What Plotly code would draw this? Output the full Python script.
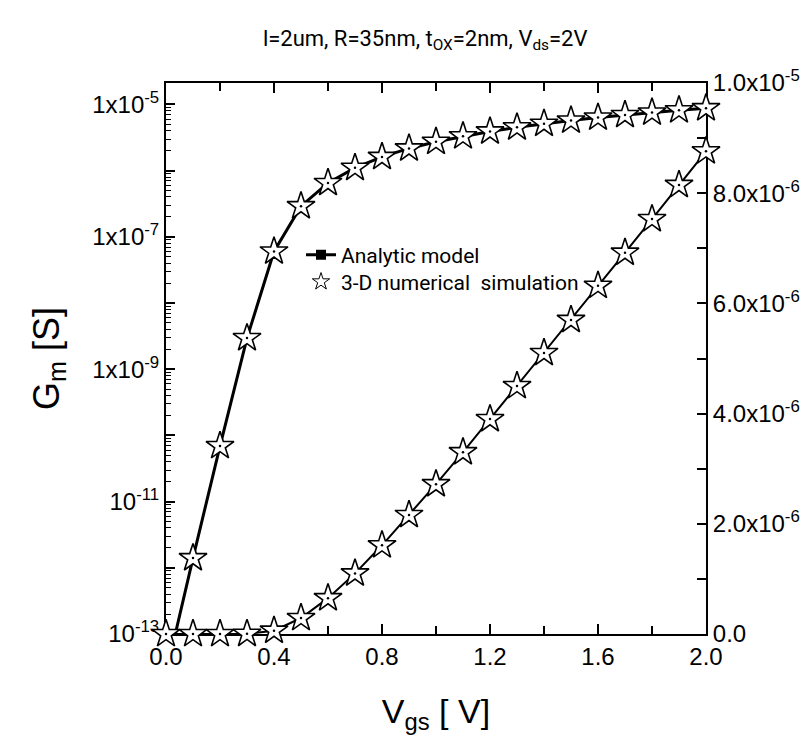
import plotly.graph_objects as go

# ---- data ----
vgs = [0.0, 0.1, 0.2, 0.3, 0.4, 0.5, 0.6, 0.7, 0.8, 0.9, 1.0,
       1.1, 1.2, 1.3, 1.4, 1.5, 1.6, 1.7, 1.8, 1.9, 2.0]
gm_model = [2.5e-14, 1.4e-12, 6.9e-11, 2.95e-9, 6.0e-8, 2.9e-7, 6.5e-7, 1.10e-6,
            1.61e-6, 2.16e-6, 2.72e-6, 3.30e-6, 3.90e-6, 4.50e-6, 5.10e-6,
            5.70e-6, 6.32e-6, 6.92e-6, 7.53e-6, 8.15e-6, 8.76e-6]
gm_sim = [2.5e-14, 1.4e-12, 6.9e-11, 2.95e-9, 6.0e-8, 2.9e-7, 6.5e-7, 1.10e-6,
          1.61e-6, 2.16e-6, 2.72e-6, 3.30e-6, 3.90e-6, 4.50e-6, 5.10e-6,
          5.70e-6, 6.32e-6, 6.92e-6, 7.53e-6, 8.15e-6, 8.76e-6]

x_ticks = [0.0, 0.4, 0.8, 1.2, 1.6, 2.0]
x_ticktext = ["0.0", "0.4", "0.8", "1.2", "1.6", "2.0"]
log_exps = [-13, -12, -11, -10, -9, -8, -7, -6, -5]
log_ticktext = ["10<sup>-13</sup>", "", "10<sup>-11</sup>", "", "1x10<sup>-9</sup>", "",
                "1x10<sup>-7</sup>", "", "1x10<sup>-5</sup>"]
lin_ticks = [0, 2e-6, 4e-6, 6e-6, 8e-6, 1e-5]
lin_ticktext = ["0.0", "2.0x10<sup>-6</sup>", "4.0x10<sup>-6</sup>", "6.0x10<sup>-6</sup>",
                "8.0x10<sup>-6</sup>", "1.0x10<sup>-5</sup>"]

LOG_MIN = 1e-13
NARROW = "Liberation Sans Narrow, Roboto"
SANS = "Liberation Sans"

log_major = [10.0 ** e for e in log_exps]
log_minor = [m * 10.0 ** e for e in log_exps[:-1] for m in range(2, 10)]

sim_log = [v if v >= LOG_MIN else None for v in gm_sim]

star = dict(symbol="star", size=21, color="white", line=dict(color="black", width=1.6))
dot = dict(symbol="circle", size=2.5, color="black")

fig = go.Figure()
# analytic model lines
fig.add_trace(go.Scatter(x=vgs, y=gm_model, mode="lines", yaxis="y",
                         line=dict(color="black", width=3), showlegend=False))
fig.add_trace(go.Scatter(x=vgs, y=gm_model, mode="lines", yaxis="y2",
                         line=dict(color="black", width=2), showlegend=False))
# simulation stars
fig.add_trace(go.Scatter(x=vgs, y=sim_log, mode="markers", yaxis="y", marker=star,
                         cliponaxis=False, showlegend=False))
fig.add_trace(go.Scatter(x=vgs, y=sim_log, mode="markers", yaxis="y", marker=dot,
                         cliponaxis=False, showlegend=False))
fig.add_trace(go.Scatter(x=vgs, y=gm_sim, mode="markers", yaxis="y2", marker=star,
                         cliponaxis=False, showlegend=False))
fig.add_trace(go.Scatter(x=vgs, y=gm_sim, mode="markers", yaxis="y2", marker=dot,
                         cliponaxis=False, showlegend=False))
# legend entries (one legend box each, for exact placement)
fig.add_trace(go.Scatter(x=[None], y=[None], mode="lines+markers", name="Analytic model",
                         line=dict(color="black", width=3), legend="legend",
                         marker=dict(symbol="square", size=10, color="black")))
fig.add_trace(go.Scatter(x=[None], y=[None], mode="markers", name="3-D numerical  simulation",
                         legend="legend2",
                         marker=dict(symbol="star", size=13, color="white",
                                     line=dict(color="black", width=1))))

legend_common = dict(xanchor="left", yanchor="middle", bgcolor="rgba(0,0,0,0)", borderwidth=0,
                     font=dict(family=NARROW, size=21, color="black"))

fig.update_layout(
    width=803, height=749,
    margin=dict(l=166, r=97, t=83, b=115),
    paper_bgcolor="white", plot_bgcolor="white",
    font=dict(family=SANS, color="black"),
    title=dict(text="l=2um, R=35nm, t<sub>OX</sub>=2nm, V<sub>ds</sub>=2V",
               font=dict(family=NARROW, size=22, color="black"),
               x=0.48, xref="paper", xanchor="center",
               y=1 - 38 / 749, yref="container", yanchor="middle"),
    xaxis=dict(range=[0, 2], tickvals=x_ticks, ticktext=x_ticktext,
               ticks="inside", ticklen=10, tickwidth=1.5, tickcolor="black",
               minor=dict(dtick=0.2, ticks="inside", ticklen=8, tickwidth=1.5, tickcolor="black"),
               showline=True, linewidth=2, linecolor="black", mirror="ticks",
               showgrid=False, zeroline=False, layer="below traces",
               tickfont=dict(size=24, family=SANS),
               title=dict(text="V<sub>gs</sub> [ V]", font=dict(size=34, family=SANS), standoff=30)),
    yaxis=dict(type="log", range=[-13, -4.677], tickvals=log_major, ticktext=log_ticktext,
               ticks="inside", ticklen=9, tickwidth=1.5, tickcolor="black",
               minor=dict(tickvals=log_minor, ticks="inside", ticklen=5, tickwidth=1, tickcolor="black"),
               showline=True, linewidth=2, linecolor="black", mirror=False,
               showgrid=False, zeroline=False, layer="below traces",
               tickfont=dict(size=24, family=SANS),
               title=dict(text="G<sub>m</sub> [S]", font=dict(size=36, family=SANS), standoff=22)),
    yaxis2=dict(overlaying="y", side="right", range=[0, 1e-5], automargin=False,
                tickvals=lin_ticks, ticktext=lin_ticktext,
                ticks="inside", ticklen=9, tickwidth=1.5, tickcolor="black",
                minor=dict(dtick=1e-6, ticks="inside", ticklen=9, tickwidth=1.5, tickcolor="black"),
                showline=True, linewidth=2, linecolor="black",
                showgrid=False, zeroline=False, layer="below traces",
                tickfont=dict(size=24, family=SANS)),
    legend=dict(x=0.25, y=(634 - 255) / 551, **legend_common),
    legend2=dict(x=0.25, y=(634 - 282) / 551, **legend_common),
)

fig.write_html("out.html")
